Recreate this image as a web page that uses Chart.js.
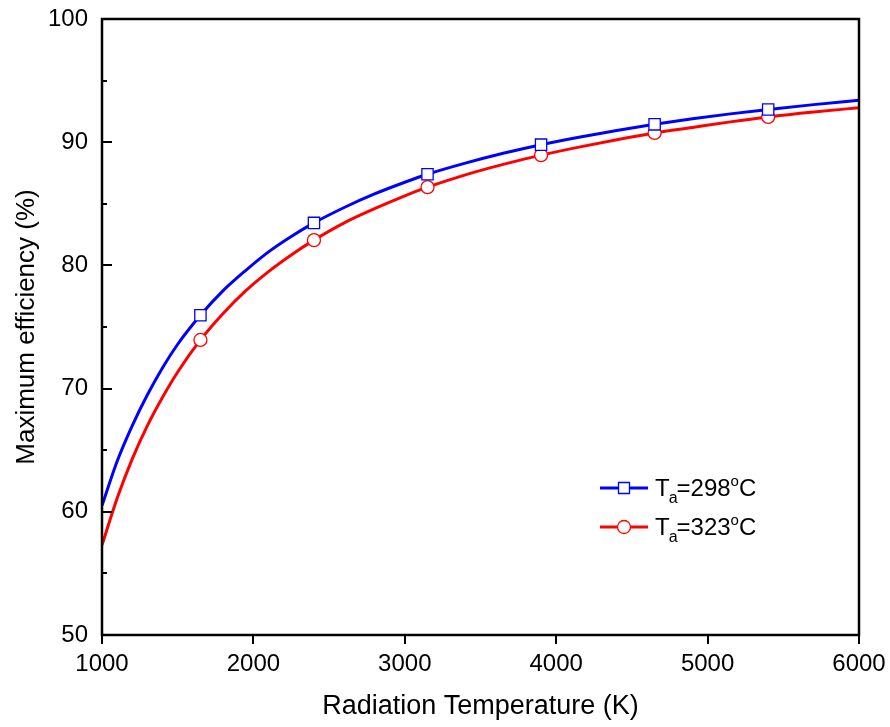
<!DOCTYPE html>
<html>
<head>
<meta charset="utf-8">
<script src="https://cdn.jsdelivr.net/npm/chart.js@4/dist/chart.umd.min.js"></script>
<style>
  html, body { margin: 0; padding: 0; background: #fff; }
  canvas { display: block; }
</style>
</head>
<body>
<canvas id="myChart" width="890" height="727"></canvas>
<script>
// radiation temperature (K)
const temps = [1000, 1100, 1200, 1300, 1400, 1500, 1650, 1800, 1950, 2100, 2250, 2400, 2600, 2800,
  3000, 3150, 3400, 3650, 3900, 4150, 4400, 4650, 4900, 5150, 5400, 5700, 6000];
// maximum efficiency (%)
const eff298 = [60.5, 64.1, 67.0, 69.5, 71.7, 73.6, 75.95, 77.95, 79.6, 81.1, 82.35, 83.45, 84.7, 85.8,
  86.75, 87.4, 88.3, 89.1, 89.8, 90.4, 90.95, 91.45, 91.9, 92.3, 92.65, 93.05, 93.4];
const eff323 = [57.3, 61.1, 64.3, 67.0, 69.3, 71.35, 73.95, 76.1, 77.95, 79.5, 80.85, 82.05, 83.45, 84.6,
  85.65, 86.35, 87.35, 88.2, 88.95, 89.6, 90.2, 90.75, 91.2, 91.65, 92.05, 92.45, 92.8];
// temperatures where the symbols sit
const markerTemps = [1650, 2400, 3150, 3900, 4650, 5400];

const seriesLabels = ['298', '323'];
const xTicks = [1000, 2000, 3000, 4000, 5000, 6000];
const yTicks = [50, 60, 70, 80, 90, 100];

const font = "'Liberation Sans', Arial, sans-serif";

const toPoints = (ys) => temps.map((t, i) => ({ x: t, y: ys[i] }));
const markerRadius = (r) => (ctx) => markerTemps.includes(temps[ctx.dataIndex]) ? r : 0;

const data = {
  datasets: [{
    label: seriesLabels[0],
    data: toPoints(eff298),
    borderColor: '#0000ff',
    borderWidth: 3,
    pointStyle: 'rect',
    pointRadius: markerRadius(8),
    pointBorderWidth: 1.3,
    pointBackgroundColor: '#fff',
    pointBorderColor: '#0000ff',
    cubicInterpolationMode: 'monotone'
  }, {
    label: seriesLabels[1],
    data: toPoints(eff323),
    borderColor: '#ff0000',
    borderWidth: 3,
    pointStyle: 'circle',
    pointRadius: markerRadius(6.5),
    pointBorderWidth: 1.3,
    pointBackgroundColor: '#fff',
    pointBorderColor: '#ff0000',
    cubicInterpolationMode: 'monotone'
  }]
};

// frame round the plot, inward y ticks, outward x ticks
const frameTicks = {
  id: 'frameTicks',
  afterDraw(chart) {
    const { ctx, chartArea: a, scales: { x, y } } = chart;
    ctx.save();
    ctx.strokeStyle = '#000';
    ctx.lineWidth = 2.5;
    ctx.strokeRect(a.left, a.top, a.right - a.left, a.bottom - a.top);
    ctx.lineWidth = 2;
    ctx.beginPath();
    for (let v = 55; v < 100; v += 5) {
      const py = Math.round(y.getPixelForValue(v));
      const len = v % 10 === 0 ? 10 : 5;
      ctx.moveTo(a.left, py);
      ctx.lineTo(a.left + len, py);
    }
    xTicks.forEach(v => {
      const px = Math.round(x.getPixelForValue(v));
      ctx.moveTo(px, a.bottom);
      ctx.lineTo(px, a.bottom + 9);
    });
    ctx.stroke();
    ctx.restore();
  }
};

// legend: line + symbol, T with subscript a and degree sign
const sketchLegend = {
  id: 'sketchLegend',
  afterDraw(chart) {
    const ctx = chart.ctx;
    chart.data.datasets.forEach((ds, i) => {
      const cy = 488 + i * 39;
      ctx.save();
      ctx.strokeStyle = ds.borderColor;
      ctx.lineWidth = 3;
      ctx.beginPath();
      ctx.moveTo(600, cy);
      ctx.lineTo(648, cy);
      ctx.stroke();
      ctx.fillStyle = '#fff';
      ctx.lineWidth = 1.3;
      ctx.beginPath();
      if (ds.pointStyle === 'rect') {
        ctx.rect(618.5, cy - 5.5, 11, 11);
      } else {
        ctx.arc(624, cy, 6.5, 0, Math.PI * 2);
      }
      ctx.fill();
      ctx.stroke();

      ctx.fillStyle = '#000';
      ctx.textBaseline = 'alphabetic';
      const base = cy + 8;
      let tx = 655;
      ctx.font = `24px ${font}`;
      ctx.fillText('T', tx, base);
      tx += ctx.measureText('T').width - 1;
      ctx.font = `16px ${font}`;
      ctx.fillText('a', tx, base + 7);
      tx += ctx.measureText('a').width - 1;
      ctx.font = `24px ${font}`;
      const mid = '=' + ds.label;
      ctx.fillText(mid, tx, base);
      tx += ctx.measureText(mid).width;
      ctx.font = `15px ${font}`;
      ctx.fillText('o', tx, base - 10);
      tx += ctx.measureText('o').width;
      ctx.font = `24px ${font}`;
      ctx.fillText('C', tx, base);
      ctx.restore();
    });
  }
};

const config = {
  type: 'line',
  data: data,
  options: {
    responsive: false,
    animation: false,
    layout: { padding: { top: 19, right: 31, left: 0, bottom: 0 } },
    plugins: { legend: { display: false }, tooltip: { enabled: false } },
    scales: {
      x: {
        type: 'linear',
        min: 1000,
        max: 6000,
        afterFit: (s) => { s.height = 92; s.paddingLeft = 0; s.paddingRight = 0; },
        afterBuildTicks: (s) => { s.ticks = xTicks.map(v => ({ value: v })); },
        grid: { display: false, drawTicks: false },
        border: { display: false },
        ticks: {
          padding: 15,
          color: '#000',
          font: { family: font, size: 24 },
          callback: (v) => String(v)
        },
        title: {
          display: true,
          text: 'Radiation Temperature (K)',
          color: '#000',
          font: { family: font, size: 27 },
          padding: { top: 0, bottom: 4 }
        }
      },
      y: {
        min: 50,
        max: 100,
        afterFit: (s) => { s.width = 102; s.paddingTop = 0; s.paddingBottom = 0; },
        afterBuildTicks: (s) => { s.ticks = yTicks.map(v => ({ value: v })); },
        grid: { display: false, drawTicks: false },
        border: { display: false },
        ticks: {
          padding: 14,
          color: '#000',
          font: { family: font, size: 24 },
          callback: (v) => String(v)
        },
        title: {
          display: true,
          text: 'Maximum efficiency (%)',
          color: '#000',
          font: { family: font, size: 26 },
          padding: { top: 11, bottom: 0 }
        }
      }
    }
  },
  plugins: [frameTicks, sketchLegend]
};

const myChart = new Chart(document.getElementById('myChart').getContext('2d'), config);
</script>
</body>
</html>
